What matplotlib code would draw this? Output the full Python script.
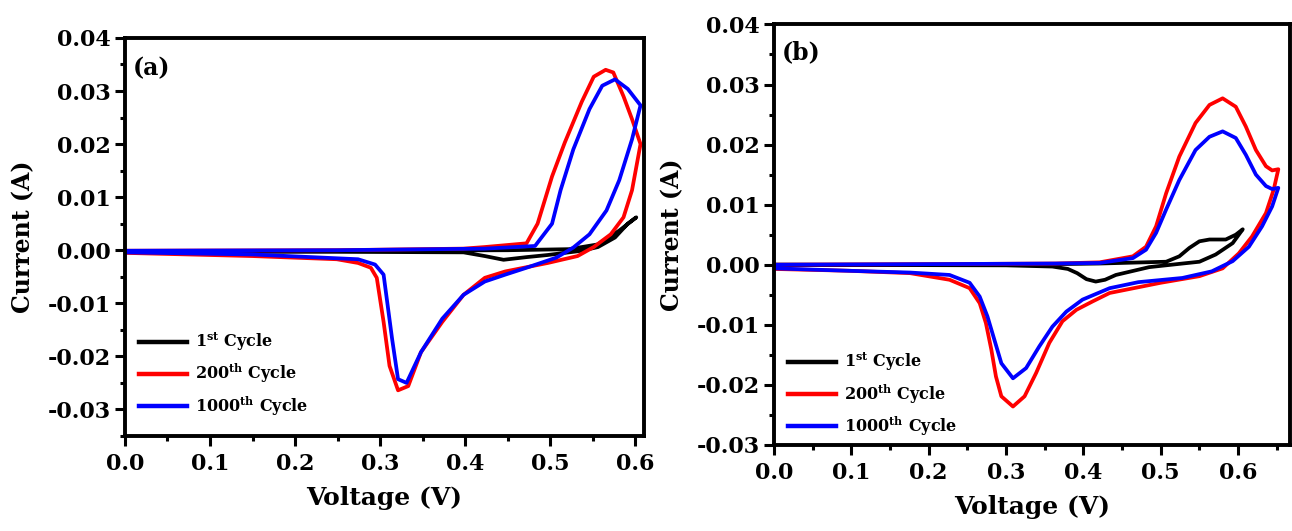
import matplotlib
matplotlib.use("Agg")
import matplotlib.pyplot as plt
from matplotlib.ticker import MultipleLocator, FormatStrFormatter

plt.rcParams['font.family'] = ['DejaVu Serif']
plt.rcParams['font.weight'] = 'bold'
plt.rcParams['mathtext.fontset'] = 'custom'
plt.rcParams['mathtext.rm'] = 'DejaVu Serif:bold'
plt.rcParams['mathtext.it'] = 'DejaVu Serif:bold'
plt.rcParams['mathtext.bf'] = 'DejaVu Serif:bold'

labels = ["1$^{st}$ Cycle", "200$^{th}$ Cycle", "1000$^{th}$ Cycle"]
colors = ["#000000", "#ff0000", "#0000ff"]

# ---- Panel (a) data ----
a1_v = [0.0, 0.25, 0.45, 0.522, 0.556, 0.581, 0.601, 0.591, 0.576, 0.556, 0.537,
        0.497, 0.472, 0.445, 0.423, 0.398, 0.249, 0.0]
a1_i = [-0.0002, -0.0001, 0.0, 0.0002, 0.0011, 0.0037, 0.0062, 0.005, 0.0024, 0.0006, -0.0001,
        -0.0009, -0.0013, -0.0018, -0.0011, -0.0004, -0.0003, -0.0003]

a200_v = [0.0, 0.249, 0.398, 0.423, 0.472, 0.485, 0.502, 0.517, 0.537, 0.551, 0.565, 0.574,
          0.586, 0.596, 0.606, 0.596, 0.586, 0.571, 0.551, 0.532, 0.497, 0.447, 0.423, 0.398,
          0.373, 0.348, 0.333, 0.321, 0.311, 0.304, 0.296, 0.289, 0.274, 0.249, 0.15, 0.0]
a200_i = [-0.0001, 0.0, 0.0003, 0.0006, 0.0013, 0.005, 0.0139, 0.0203, 0.028, 0.0327, 0.034, 0.0335,
          0.029, 0.0247, 0.020, 0.0113, 0.0062, 0.003, 0.0006, -0.0011, -0.0024, -0.004, -0.0052, -0.0084,
          -0.0135, -0.0192, -0.0256, -0.0264, -0.0218, -0.0135, -0.0052, -0.0033, -0.0024, -0.0017, -0.0011, -0.0005]

a1000_v = [0.0, 0.249, 0.423, 0.482, 0.502, 0.512, 0.527, 0.546, 0.561, 0.576, 0.591, 0.606,
           0.596, 0.581, 0.566, 0.546, 0.527, 0.507, 0.472, 0.447, 0.423, 0.398, 0.373, 0.348,
           0.331, 0.321, 0.314, 0.304, 0.294, 0.274, 0.15, 0.0]
a1000_i = [-0.0001, 0.0, 0.0003, 0.0008, 0.005, 0.0113, 0.019, 0.0266, 0.031, 0.0322, 0.0304, 0.0273,
           0.0209, 0.0132, 0.0075, 0.003, 0.0005, -0.0014, -0.0033, -0.0046, -0.0059, -0.0084, -0.0129, -0.0192,
           -0.025, -0.0243, -0.0167, -0.0046, -0.0027, -0.0017, -0.0008, -0.0004]

# ---- Panel (b) data ----
b1_v = [0.0, 0.31, 0.42, 0.507, 0.524, 0.537, 0.550, 0.563, 0.584, 0.597, 0.606,
        0.593, 0.571, 0.550, 0.528, 0.485, 0.442, 0.428, 0.416, 0.404, 0.392, 0.380, 0.36, 0.30, 0.0]
b1_i = [0.0, 0.0, 0.0002, 0.0005, 0.0014, 0.0028, 0.0039, 0.0042, 0.0042, 0.005, 0.0059,
        0.0036, 0.0017, 0.0005, 0.0002, -0.0004, -0.0017, -0.0025, -0.0028, -0.0024, -0.0014, -0.0007,
        -0.0003, -0.0001, 0.0]

b200_v = [0.0, 0.2, 0.364, 0.421, 0.464, 0.481, 0.494, 0.507, 0.524, 0.545, 0.563, 0.580, 0.597,
          0.610, 0.623, 0.636, 0.644, 0.652, 0.646, 0.636, 0.618, 0.601, 0.580, 0.550, 0.500,
          0.434, 0.412, 0.391, 0.373, 0.356, 0.339, 0.324, 0.309, 0.294, 0.287, 0.281, 0.274,
          0.266, 0.253, 0.227, 0.176, 0.096, 0.0]
b200_i = [0.0, 0.0001, 0.0002, 0.0004, 0.0014, 0.003, 0.0064, 0.0119, 0.018, 0.0236, 0.0266, 0.0277, 0.0263,
          0.023, 0.0191, 0.0164, 0.0157, 0.0159, 0.0125, 0.0086, 0.0047, 0.0019, -0.0006, -0.0019, -0.003,
          -0.0047, -0.0061, -0.0075, -0.0094, -0.013, -0.018, -0.0219, -0.0236, -0.0219, -0.0186, -0.0141, -0.0097,
          -0.0064, -0.0039, -0.0025, -0.0014, -0.001, -0.0007]

b1000_v = [0.0, 0.2, 0.364, 0.421, 0.464, 0.481, 0.494, 0.507, 0.524, 0.545, 0.563, 0.580, 0.597,
           0.610, 0.623, 0.636, 0.644, 0.652, 0.644, 0.631, 0.614, 0.593, 0.566, 0.528, 0.471,
           0.434, 0.399, 0.378, 0.360, 0.343, 0.326, 0.309, 0.294, 0.285, 0.276, 0.266, 0.253,
           0.227, 0.176, 0.096, 0.0]
b1000_i = [0.0, 0.0001, 0.0002, 0.0003, 0.0011, 0.0025, 0.0053, 0.0092, 0.0141, 0.0191, 0.0213, 0.0222, 0.0211,
           0.0183, 0.015, 0.0131, 0.0126, 0.0128, 0.0097, 0.0064, 0.003, 0.0006, -0.0011, -0.0022, -0.0029,
           -0.0039, -0.0058, -0.0078, -0.0103, -0.0136, -0.0172, -0.0189, -0.0164, -0.0125, -0.0086, -0.0053, -0.003,
           -0.0017, -0.0013, -0.001, -0.0006]

fig = plt.figure(figsize=(12.92, 5.31), dpi=100)
axA = fig.add_axes([0.0967, 0.179, 0.4017, 0.7495])
axB = fig.add_axes([0.599, 0.162, 0.3994, 0.792])


def style(ax, xlim, ylim, panel, label_y):
    ax.set_xlim(*xlim)
    ax.set_ylim(*ylim)
    ax.xaxis.set_major_locator(MultipleLocator(0.1))
    ax.xaxis.set_minor_locator(MultipleLocator(0.05))
    ax.yaxis.set_major_locator(MultipleLocator(0.01))
    ax.yaxis.set_minor_locator(MultipleLocator(0.005))
    ax.xaxis.set_major_formatter(FormatStrFormatter('%.1f'))
    ax.yaxis.set_major_formatter(FormatStrFormatter('%.2f'))
    for s in ax.spines.values():
        s.set_linewidth(2.8)
    ax.tick_params(which='major', direction='out', length=7, width=2.2, labelsize=16)
    ax.tick_params(which='minor', direction='out', length=3.5, width=2.2)
    ax.tick_params(axis='x', which='major', pad=5)
    ax.tick_params(axis='y', which='major', pad=3)
    for t in ax.get_xticklabels() + ax.get_yticklabels():
        t.set_fontweight('bold')
    ax.set_xlabel('Voltage (V)', fontsize=18, fontweight='bold', labelpad=8)
    ax.set_ylabel('Current (A)', fontsize=17, fontweight='bold', labelpad=9)
    ax.text(0.015, label_y, panel, transform=ax.transAxes, fontsize=17, fontweight='bold',
            va='center', ha='left')


for ax, data in [(axA, [(a1_v, a1_i), (a200_v, a200_i), (a1000_v, a1000_i)]),
                 (axB, [(b1_v, b1_i), (b200_v, b200_i), (b1000_v, b1000_i)])]:
    for (v, i), c, lab in zip(data, colors, labels):
        ax.plot(v, i, color=c, lw=2.7, label=lab, solid_joinstyle='round')

style(axA, (0, 0.61), (-0.035, 0.04), '(a)', 0.925)
style(axB, (0, 0.667), (-0.03, 0.04), '(b)', 0.935)

for ax, anchor in [(axA, (0.0, 0.01)), (axB, (0.0, -0.017))]:
    leg = ax.legend(loc='lower left', bbox_to_anchor=anchor, frameon=False, fontsize=11.5,
                    handlelength=3.0, handletextpad=0.5, labelspacing=0.55)
    for h in leg.get_lines():
        h.set_linewidth(3.2)
    for t in leg.get_texts():
        t.set_fontweight('bold')

fig.savefig('out.png', dpi=100)
